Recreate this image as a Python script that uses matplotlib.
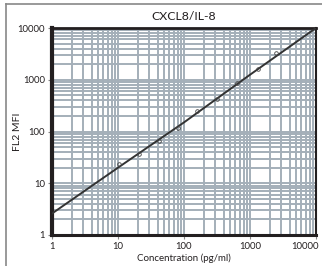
import matplotlib
matplotlib.use("Agg")
import matplotlib.pyplot as plt
from matplotlib.lines import Line2D
import numpy as np

title = "CXCL8/IL-8"
xlabel = "Concentration (pg/ml)"
ylabel = "FL2 MFI"

# standard points
conc = [10.4, 20.8, 41.8, 81, 157, 316, 635, 1318, 2470]
mfi = [23.5, 36.7, 65.5, 117, 249, 425, 865, 1614, 3288]

# fitted curve
fit_x = [1, 10, 100, 1000, 10000]
fit_y = [2.6, 20, 150, 1250, 10000]

tick_vals = [1, 10, 100, 1000, 10000]
tick_labels = ["1", "10", "100", "1000", "10000"]

plt.rcParams['font.family'] = ['Lato', 'DejaVu Sans']
fig = plt.figure(figsize=(3.22, 2.66), dpi=100)
ax = fig.add_axes([52/322, 1-235/266, (316-52)/322, (235-28)/266])

ax.set_xscale('log')
ax.set_yscale('log')
ax.set_xlim(1, 10000)
ax.set_ylim(1, 10000)

gc = '#a4afb9'
ax.grid(True, which='major', color=gc, lw=1.4)
ax.grid(True, which='minor', color=gc, lw=1.4)
ax.set_axisbelow(True)

ax.plot(fit_x, fit_y, color='#333333', lw=1.4, zorder=3)
ax.plot(conc, mfi, 'o', ms=2.6, mfc='none', mec='#444444', mew=0.6, zorder=4)

ax.set_xticks(tick_vals)
ax.set_xticklabels(tick_labels)
ax.set_yticks(tick_vals)
ax.set_yticklabels(tick_labels)
ax.tick_params(which='major', length=3, width=0.8, color='#888888', labelsize=6.8,
               labelcolor='#231f20', pad=2)
ax.tick_params(which='minor', length=0)
last = ax.get_xticklabels()[-1]
last.set_horizontalalignment('right')
import matplotlib.transforms as mtransforms
last.set_transform(last.get_transform() + mtransforms.ScaledTranslation(3/100, 0, fig.dpi_scale_trans))

for s, w in [('left', 3), ('bottom', 2.2), ('top', 2), ('right', 1.5)]:
    ax.spines[s].set_linewidth(w)
    ax.spines[s].set_color('#231f20')

ax.set_title(title, fontsize=8.8, color='#231f20', pad=6)
ax.set_xlabel(xlabel, fontsize=7, color='#231f20', labelpad=2)
ax.set_ylabel(ylabel, fontsize=7.5, color='#231f20')
ax.yaxis.set_label_coords((22-52)/264, 0.5)

# outer border
fig.add_artist(Line2D([6/322, 1], [1-4/266, 1-4/266], color='#888888', lw=1.2, transform=fig.transFigure))
fig.add_artist(Line2D([6/322, 6/322], [0, 1-4/266], color='#888888', lw=1.2, transform=fig.transFigure))

fig.savefig('out.png', dpi=100)
